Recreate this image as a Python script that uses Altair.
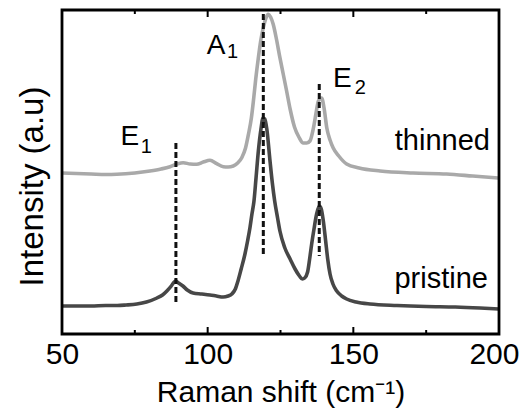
import altair as alt
import pandas as pd

# Raman shift (cm-1) and intensity (arbitrary units)
pristine_x = [50, 55, 60, 65, 69, 72, 75.7, 79, 82.6, 84.5, 86, 87.5, 88.5, 89.1, 90, 91.5, 93, 95, 98,
              100.8, 103, 105.3, 107, 108.3, 109.5, 110.4, 111.5, 112.8, 113.7, 114.5, 115.2, 115.9,
              116.6, 117.4, 118.3, 119.0, 119.6, 120.3, 121.4, 122.2, 123, 124, 124.8, 126.5, 128.3,
              130, 131.5, 132.5, 133.3, 134.3, 135, 135.7, 136.5, 137.4, 138.3, 139, 139.7, 140.5,
              141.2, 142, 143, 144.3, 146, 147.7, 151, 155.7, 165, 175, 185, 193.5, 200]
pristine_y = [28, 28, 28, 28.5, 28.5, 29, 30, 32, 36, 39, 43, 48, 52, 53, 51, 48, 44, 41, 40,
              39, 38, 37, 38, 40, 45, 53, 65, 80, 93, 106, 120, 133,
              156, 183, 205, 216, 215, 205, 173, 151, 133, 116, 103, 86, 75,
              65, 58, 55, 56, 62, 75, 90, 105, 120, 128, 125, 113, 93,
              75, 60, 50, 43, 38, 35, 32, 30, 28.5, 27.5, 27, 26, 25]

thinned_x = [50, 55, 60, 65, 68.8, 75, 80.2, 84, 87.1, 89.5, 91.6, 94, 96.2, 98.5, 100.8, 103.1,
             105.4, 107, 108.8, 110.3, 111.7, 113, 114, 115, 115.7, 116.5, 117.4, 118.2, 119.1, 120,
             120.8, 121.6, 122.5, 123.6, 124.8, 126, 127.1, 128.3, 129.8, 131.3, 132.8, 134, 135.1,
             136.3, 137.2, 138, 139.1, 140, 140.9, 142, 143.1, 145, 147.7, 152, 159.2, 170.5, 182,
             191, 199.7]
thinned_y = [161, 160.5, 160, 159.5, 159.7, 161, 163, 165, 167.3, 170, 171.3, 170, 169.7, 172, 173.7,
             170.3, 167.3, 167, 168, 171, 176.3, 186, 199.7, 216, 233, 255, 276.3, 293, 306.3, 316,
             319.7, 317, 309.7, 295, 276.3, 259, 243, 225, 207, 197, 191, 191, 193,
             206, 221, 233, 236, 225, 206, 194, 186, 178, 170, 166, 163, 161, 160,
             158, 156]

# Peak markers (dashed lines)
peak_pos = [89.1, 119.1, 138.3]
peak_top = [191, 320, 250]
peak_bottom = [30, 78, 78]

# Peak labels
label_main = ["E", "A", "E"]
label_main_x = [70.1, 99.7, 143.0]
label_main_y = [189, 280, 247]
label_sub = ["1", "1", "2"]
label_sub_x = [77.0, 106.6, 150.5]
label_sub_y = [181, 276, 240]

# Sample names
sample_names = ["thinned", "pristine"]
sample_x = [196.9, 196.2]
sample_y = [183.7, 45.7]

x_tick_labels = [50, 100, 150, 200]
major_ticks = [100, 150]
minor_ticks = [75, 125, 175]

FONT = "Liberation Sans"
Y_MAX = 324
xs = alt.Scale(domain=[50, 200], nice=False, zero=False)
ys = alt.Scale(domain=[0, Y_MAX], nice=False, zero=False)

x_axis = alt.Axis(
    values=x_tick_labels, title="Raman shift (cm⁻¹)", grid=False, domain=False,
    ticks=False, tickSize=0, labelFontSize=30, labelFont=FONT, labelColor="black",
    labelPadding=5, labelFlush=False, labelOverlap=False,
    labelAlign={"condition": {"test": "datum.value === 200", "value": "right"}, "value": "center"},
    labelOffset={"condition": {"test": "datum.value === 200", "value": 20}, "value": 0},
    titleFontSize=30, titleFont=FONT, titleFontWeight="normal", titleColor="black",
    titleX=218.5, titleY=67, titleBaseline="alphabetic", titleAlign="center")
y_axis = alt.Axis(
    labels=False, ticks=False, domain=False, grid=False, title="Intensity (a.u)",
    titleFontSize=33, titleFont=FONT, titleFontWeight="normal", titleColor="black",
    titleX=-20, titleY=176, titleBaseline="alphabetic", titleAlign="center", titleAngle=270)


def X(field="shift"):
    return alt.X(f"{field}:Q", scale=xs, axis=x_axis)


def Y(field="intensity"):
    return alt.Y(f"{field}:Q", scale=ys, axis=y_axis)


spectra = pd.concat([
    pd.DataFrame({"shift": thinned_x, "intensity": thinned_y, "sample": "thinned"}),
    pd.DataFrame({"shift": pristine_x, "intensity": pristine_y, "sample": "pristine"}),
])

lines = alt.Chart(spectra).mark_line(strokeWidth=3.6, interpolate="monotone").encode(
    x=X(), y=Y(),
    color=alt.Color("sample:N", scale=alt.Scale(domain=["thinned", "pristine"],
                                                range=["#a9a9a9", "#474747"]), legend=None),
)

peaks = alt.Chart(pd.DataFrame({"shift": peak_pos, "intensity": peak_top, "bottom": peak_bottom})).mark_rule(
    strokeDash=[6, 3], strokeWidth=3, color="#111111").encode(x=X(), y=Y(), y2="bottom:Q")

main_txt = alt.Chart(pd.DataFrame({"shift": label_main_x, "intensity": label_main_y, "t": label_main})).mark_text(
    align="left", baseline="alphabetic", fontSize=28, font=FONT, color="black").encode(
    x=X(), y=Y(), text="t:N")

sub_txt = alt.Chart(pd.DataFrame({"shift": label_sub_x, "intensity": label_sub_y, "t": label_sub})).mark_text(
    align="left", baseline="alphabetic", fontSize=20, font=FONT, color="black").encode(
    x=X(), y=Y(), text="t:N")

name_txt = alt.Chart(pd.DataFrame({"shift": sample_x, "intensity": sample_y, "t": sample_names})).mark_text(
    align="right", baseline="alphabetic", fontSize=29, font=FONT, color="black").encode(
    x=X(), y=Y(), text="t:N")

# inward ticks on bottom and top edges (lengths in intensity units = pixels)
tick_rows = []
for t in major_ticks:
    tick_rows += [{"shift": t, "intensity": 0, "end": 7}, {"shift": t, "intensity": Y_MAX, "end": Y_MAX - 7}]
for t in minor_ticks:
    tick_rows += [{"shift": t, "intensity": 0, "end": 4}, {"shift": t, "intensity": Y_MAX, "end": Y_MAX - 4}]
ticks = alt.Chart(pd.DataFrame(tick_rows)).mark_rule(strokeWidth=2, color="black").encode(
    x=X(), y=Y(), y2="end:Q")

# frame
frame = alt.Chart(pd.DataFrame({"shift": [50], "end_x": [200], "intensity": [0], "end": [Y_MAX]})).mark_rect(
    fill=None, stroke="black", strokeWidth=2.8).encode(x=X(), x2="end_x:Q", y=Y(), y2="end:Q")

chart = alt.layer(lines, peaks, main_txt, sub_txt, name_txt, ticks, frame).properties(
    width=437, height=Y_MAX,
    autosize=alt.AutoSizeParams(type="none"),
    padding={"left": 54, "top": 2, "right": 21, "bottom": 74},
).configure(font=FONT).configure_view(stroke=None)

chart.save("out.html", embed_options={"renderer": "svg", "actions": False})
